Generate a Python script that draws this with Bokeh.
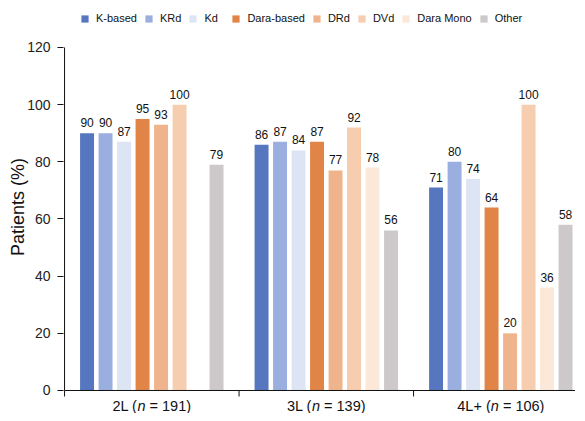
from bokeh.plotting import figure
from bokeh.models import ColumnDataSource, LabelSet, Legend, LegendItem, FixedTicker, Range1d
from bokeh.core.properties import value
from bokeh.transform import dodge
from bokeh.embed import file_html
from bokeh.resources import INLINE

groups = ["2L", "3L", "4L+"]
group_n = ["191", "139", "106"]
series = ["K-based", "KRd", "Kd", "Dara-based", "DRd", "DVd", "Dara Mono", "Other"]
k_based = [90, 86, 71]
krd = [90, 87, 80]
kd = [87, 84, 74]
dara_based = [95, 87, 64]
drd = [93, 77, 20]
dvd = [100, 92, 100]
dara_mono = [None, 78, 36]
other = [79, 56, 58]
values = [k_based, krd, kd, dara_based, drd, dvd, dara_mono, other]
colors = ["#5677c0", "#9aafe0", "#dde4f3", "#e08447", "#efb48c", "#f6cdaf", "#fce8d8", "#cdc9ca"]
y_ticks = [0, 20, 40, 60, 80, 100, 120]
x_ticks = [0, 1, 2, 3]

FONT = "Liberation Sans"
PITCH = 0.106
BARW = 0.080
X_END = 2.928
PX_PER_Y = 2.858      # pixels per y unit
Y_BOT = -8.05
Y_TOP = 136.44

p = figure(width=575, height=413, output_backend="svg", toolbar_location=None,
           x_range=Range1d(-0.006, X_END), y_range=Range1d(Y_BOT, Y_TOP),
           x_axis_location=None,
           min_border_left=63, min_border_right=0, min_border_top=0, min_border_bottom=0)
p.outline_line_color = None
p.xgrid.grid_line_color = None
p.ygrid.grid_line_color = None
p.background_fill_color = "white"
p.border_fill_color = "white"

xc = [i + 0.5 for i in range(len(groups))]
items = []
for si, (name, vals, col) in enumerate(zip(series, values, colors)):
    off = (si - 3.5) * PITCH
    xs = [x for x, v in zip(xc, vals) if v is not None]
    vs = [v for v in vals if v is not None]
    src = ColumnDataSource(dict(x=xs, value=vs, label=[str(v) for v in vs]))
    r = p.vbar(x=dodge("x", off, range=p.x_range), top="value", bottom=0, width=BARW, source=src,
               fill_color=col, line_color=None)
    items.append(LegendItem(label=name, renderers=[r]))
    ls = LabelSet(x=dodge("x", off, range=p.x_range), y="value", text="label", source=src,
                  text_align="center", text_baseline="bottom", y_offset=6,
                  text_font=value(FONT), text_font_size="12px", text_color="#111111")
    p.add_layout(ls)

legend = Legend(items=items, orientation="horizontal", location=(17, 389),
                glyph_width=9, glyph_height=9, label_standoff=7, spacing=7,
                label_text_font=FONT, label_text_font_size="11px", label_text_color="#111111",
                label_height=12, padding=0, margin=0,
                background_fill_alpha=0, border_line_color=None)
p.add_layout(legend)

# y axis (ticks + labels from the axis, line drawn only from 0 to 120)
ya = p.yaxis[0]
ya.ticker = FixedTicker(ticks=y_ticks)
ya.axis_label = "Patients (%)"
ya.axis_label_text_font = FONT
ya.axis_label_text_font_size = "18px"
ya.axis_label_text_font_style = "normal"
ya.axis_label_text_color = "#111111"
ya.axis_label_standoff = -4
ya.major_label_text_font = FONT
ya.major_label_text_font_size = "14px"
ya.major_label_text_color = "#222222"
ya.major_tick_in = 0
ya.major_tick_out = 6
ya.minor_tick_line_color = None
ya.axis_line_color = None
ya.major_tick_line_color = "#111111"
ya.major_label_standoff = 7

p.segment(x0=[0], y0=[y_ticks[0]], x1=[0], y1=[y_ticks[-1]], line_color="#111111", line_width=1)

# x axis line and boundary ticks
p.segment(x0=[0], y0=[0], x1=[X_END], y1=[0], line_color="#111111", line_width=1)
tick_len = 6 / PX_PER_Y
p.segment(x0=x_ticks, y0=[0] * len(x_ticks), x1=x_ticks, y1=[-tick_len] * len(x_ticks),
          line_color="#111111", line_width=1)

# group labels with italic n
label_y = -16 / PX_PER_Y
pre_w = {"2L": 24.9, "3L": 24.9, "4L+": 33.6}
for i, (g, n) in enumerate(zip(groups, group_n)):
    total = pre_w[g] + 8.1 + 45.6
    o = -total / 2 + pre_w[g]
    common = dict(text_baseline="middle", text_font=value(FONT), text_font_size="14.5px",
                  text_color="#111111")
    p.text(x=[xc[i]], y=[label_y], text=[g + " ("], x_offset=o, text_align="right", **common)
    p.text(x=[xc[i]], y=[label_y], text=["n"], x_offset=o, text_align="left",
           text_font_style="italic", **common)
    p.text(x=[xc[i]], y=[label_y], text=["\u00a0=\u00a0" + n + ")"], x_offset=o + 8.1,
           text_align="left", **common)

open("out.html", "w").write(file_html(p, INLINE))
